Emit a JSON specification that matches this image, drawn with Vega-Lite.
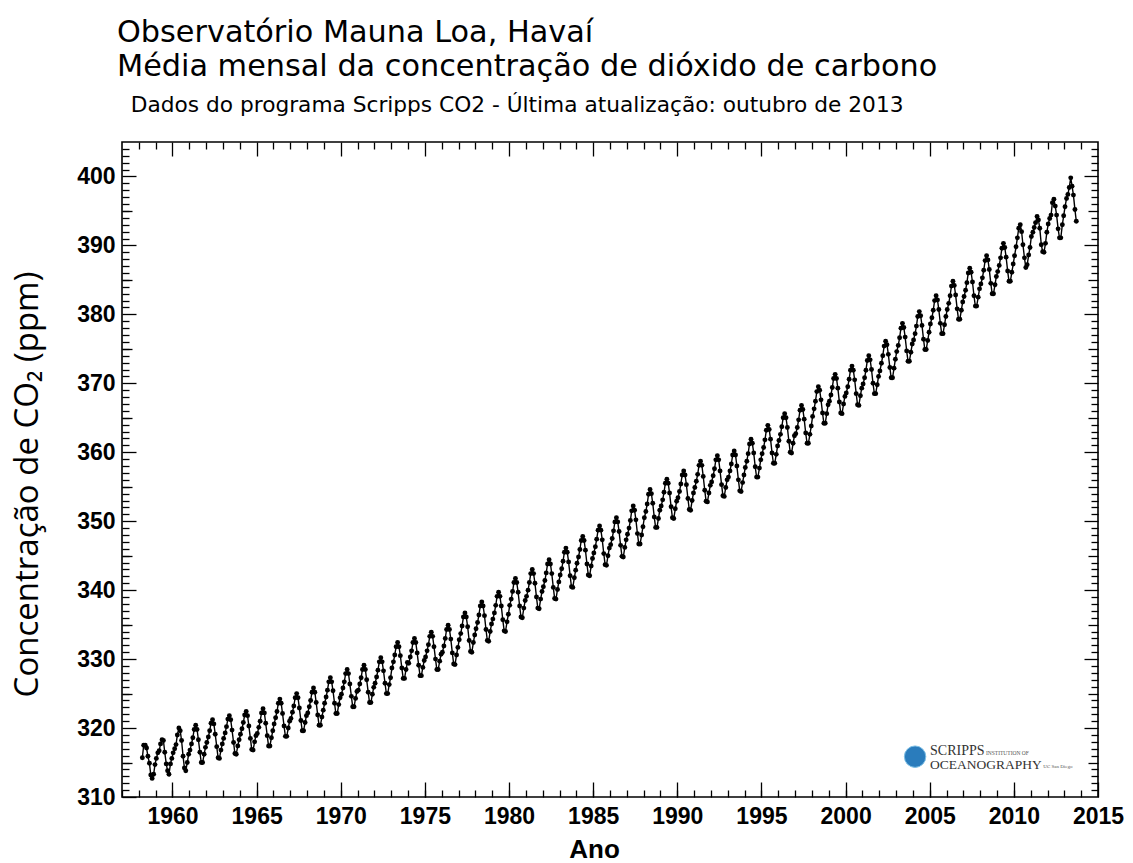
{
"$schema": "https://vega.github.io/schema/vega-lite/v6.json",
"width": 976, "height": 655,
"autosize": "none",
"padding": {"left": 122, "top": 142, "right": 35, "bottom": 66},
"background": "white",
"title": {"text": ["Observatório Mauna Loa, Havaí", "Média mensal da concentração de dióxido de carbono"], "subtitle": "\u200b\u00a0\u00a0Dados do programa Scripps CO2 - Última atualização: outubro de 2013", "anchor": "start", "frame": "group", "font": "DejaVu Sans", "fontSize": 30.3, "fontWeight": "normal", "color": "#000", "lineHeight": 34, "subtitleFont": "DejaVu Sans", "subtitleFontSize": 21.7, "subtitleColor": "#000", "subtitlePadding": 12, "offset": 25, "dx": -5},
"config": {"view": {"stroke": "#000", "strokeWidth": 1.6}, "axis": {"grid": false, "domain": false, "tickColor": "#000", "tickWidth": 1.3, "labelColor": "#000"}},
"resolve": {"axis": {"x": "independent", "y": "independent"}},
"data": {"values": [
{"t":1958.21,"v":315.7},{"t":1958.29,"v":317.5},{"t":1958.38,"v":317.5},{"t":1958.46,"v":317.1},{"t":1958.54,"v":315.9},{"t":1958.63,"v":314.9},{"t":1958.71,"v":313.2},{"t":1958.79,"v":312.7},{"t":1958.88,"v":313.3},{"t":1958.96,"v":314.7},
{"t":1959.04,"v":315.6},{"t":1959.13,"v":316.4},{"t":1959.21,"v":316.7},{"t":1959.29,"v":317.7},{"t":1959.38,"v":318.3},{"t":1959.46,"v":318.2},{"t":1959.54,"v":316.5},{"t":1959.63,"v":314.8},{"t":1959.71,"v":313.8},{"t":1959.79,"v":313.3},{"t":1959.88,"v":314.8},{"t":1959.96,"v":315.6},
{"t":1960.04,"v":316.4},{"t":1960.13,"v":317.0},{"t":1960.21,"v":317.6},{"t":1960.29,"v":319.0},{"t":1960.38,"v":320.0},{"t":1960.46,"v":319.6},{"t":1960.54,"v":318.2},{"t":1960.63,"v":315.9},{"t":1960.71,"v":314.2},{"t":1960.79,"v":313.8},{"t":1960.88,"v":315.0},{"t":1960.96,"v":316.2},
{"t":1961.04,"v":316.8},{"t":1961.13,"v":317.7},{"t":1961.21,"v":318.6},{"t":1961.29,"v":319.8},{"t":1961.38,"v":320.4},{"t":1961.46,"v":319.8},{"t":1961.54,"v":318.3},{"t":1961.63,"v":316.5},{"t":1961.71,"v":315.0},{"t":1961.79,"v":315.0},{"t":1961.88,"v":316.2},{"t":1961.96,"v":317.2},
{"t":1962.04,"v":317.9},{"t":1962.13,"v":318.7},{"t":1962.21,"v":319.6},{"t":1962.29,"v":320.7},{"t":1962.38,"v":321.2},{"t":1962.46,"v":320.6},{"t":1962.54,"v":319.1},{"t":1962.63,"v":317.3},{"t":1962.71,"v":315.7},{"t":1962.79,"v":315.6},{"t":1962.88,"v":316.8},{"t":1962.96,"v":317.7},
{"t":1963.04,"v":318.5},{"t":1963.13,"v":319.3},{"t":1963.21,"v":320.2},{"t":1963.29,"v":321.3},{"t":1963.38,"v":321.8},{"t":1963.46,"v":321.2},{"t":1963.54,"v":319.7},{"t":1963.63,"v":317.9},{"t":1963.71,"v":316.3},{"t":1963.79,"v":316.2},{"t":1963.88,"v":317.4},{"t":1963.96,"v":318.3},
{"t":1964.04,"v":319.1},{"t":1964.13,"v":319.9},{"t":1964.21,"v":320.8},{"t":1964.29,"v":321.9},{"t":1964.38,"v":322.4},{"t":1964.46,"v":321.8},{"t":1964.54,"v":320.3},{"t":1964.63,"v":318.5},{"t":1964.71,"v":316.9},{"t":1964.79,"v":316.8},{"t":1964.88,"v":318.0},{"t":1964.96,"v":318.9},
{"t":1965.04,"v":319.2},{"t":1965.13,"v":320.1},{"t":1965.21,"v":321.0},{"t":1965.29,"v":322.2},{"t":1965.38,"v":322.8},{"t":1965.46,"v":322.2},{"t":1965.54,"v":320.7},{"t":1965.63,"v":318.9},{"t":1965.71,"v":317.4},{"t":1965.79,"v":317.4},{"t":1965.88,"v":318.6},{"t":1965.96,"v":319.6},
{"t":1966.04,"v":320.6},{"t":1966.13,"v":321.5},{"t":1966.21,"v":322.4},{"t":1966.29,"v":323.6},{"t":1966.38,"v":324.2},{"t":1966.46,"v":323.6},{"t":1966.54,"v":322.1},{"t":1966.63,"v":320.3},{"t":1966.71,"v":318.8},{"t":1966.79,"v":318.8},{"t":1966.88,"v":320.0},{"t":1966.96,"v":321.0},
{"t":1967.04,"v":321.4},{"t":1967.13,"v":322.3},{"t":1967.21,"v":323.2},{"t":1967.29,"v":324.4},{"t":1967.38,"v":325.0},{"t":1967.46,"v":324.4},{"t":1967.54,"v":322.9},{"t":1967.63,"v":321.1},{"t":1967.71,"v":319.6},{"t":1967.79,"v":319.6},{"t":1967.88,"v":320.8},{"t":1967.96,"v":321.8},
{"t":1968.04,"v":322.2},{"t":1968.13,"v":323.1},{"t":1968.21,"v":324.0},{"t":1968.29,"v":325.2},{"t":1968.38,"v":325.8},{"t":1968.46,"v":325.2},{"t":1968.54,"v":323.7},{"t":1968.63,"v":321.9},{"t":1968.71,"v":320.4},{"t":1968.79,"v":320.4},{"t":1968.88,"v":321.6},{"t":1968.96,"v":322.6},
{"t":1969.04,"v":323.6},{"t":1969.13,"v":324.5},{"t":1969.21,"v":325.5},{"t":1969.29,"v":326.7},{"t":1969.38,"v":327.3},{"t":1969.46,"v":326.7},{"t":1969.54,"v":325.4},{"t":1969.63,"v":323.6},{"t":1969.71,"v":322.1},{"t":1969.79,"v":322.1},{"t":1969.88,"v":323.4},{"t":1969.96,"v":324.4},
{"t":1970.04,"v":324.9},{"t":1970.13,"v":325.8},{"t":1970.21,"v":326.7},{"t":1970.29,"v":327.9},{"t":1970.38,"v":328.5},{"t":1970.46,"v":327.9},{"t":1970.54,"v":326.4},{"t":1970.63,"v":324.6},{"t":1970.71,"v":323.1},{"t":1970.79,"v":323.1},{"t":1970.88,"v":324.3},{"t":1970.96,"v":325.3},
{"t":1971.04,"v":325.5},{"t":1971.13,"v":326.4},{"t":1971.21,"v":327.3},{"t":1971.29,"v":328.5},{"t":1971.38,"v":329.1},{"t":1971.46,"v":328.5},{"t":1971.54,"v":327.0},{"t":1971.63,"v":325.2},{"t":1971.71,"v":323.7},{"t":1971.79,"v":323.7},{"t":1971.88,"v":324.9},{"t":1971.96,"v":325.9},
{"t":1972.04,"v":326.5},{"t":1972.13,"v":327.4},{"t":1972.21,"v":328.4},{"t":1972.29,"v":329.6},{"t":1972.38,"v":330.2},{"t":1972.46,"v":329.6},{"t":1972.54,"v":328.3},{"t":1972.63,"v":326.5},{"t":1972.71,"v":325.0},{"t":1972.79,"v":325.0},{"t":1972.88,"v":326.3},{"t":1972.96,"v":327.3},
{"t":1973.04,"v":328.7},{"t":1973.13,"v":329.6},{"t":1973.21,"v":330.6},{"t":1973.29,"v":331.8},{"t":1973.38,"v":332.4},{"t":1973.46,"v":331.8},{"t":1973.54,"v":330.5},{"t":1973.63,"v":328.7},{"t":1973.71,"v":327.2},{"t":1973.79,"v":327.2},{"t":1973.88,"v":328.5},{"t":1973.96,"v":329.5},
{"t":1974.04,"v":329.4},{"t":1974.13,"v":330.3},{"t":1974.21,"v":331.2},{"t":1974.29,"v":332.4},{"t":1974.38,"v":333.0},{"t":1974.46,"v":332.4},{"t":1974.54,"v":330.9},{"t":1974.63,"v":329.1},{"t":1974.71,"v":327.6},{"t":1974.79,"v":327.6},{"t":1974.88,"v":328.8},{"t":1974.96,"v":329.8},
{"t":1975.04,"v":330.3},{"t":1975.13,"v":331.2},{"t":1975.21,"v":332.1},{"t":1975.29,"v":333.3},{"t":1975.38,"v":333.9},{"t":1975.46,"v":333.3},{"t":1975.54,"v":331.8},{"t":1975.63,"v":330.0},{"t":1975.71,"v":328.5},{"t":1975.79,"v":328.5},{"t":1975.88,"v":329.7},{"t":1975.96,"v":330.7},
{"t":1976.04,"v":331.0},{"t":1976.13,"v":331.9},{"t":1976.21,"v":333.0},{"t":1976.29,"v":334.3},{"t":1976.38,"v":334.9},{"t":1976.46,"v":334.3},{"t":1976.54,"v":332.9},{"t":1976.63,"v":330.9},{"t":1976.71,"v":329.3},{"t":1976.79,"v":329.2},{"t":1976.88,"v":330.6},{"t":1976.96,"v":331.7},
{"t":1977.04,"v":332.8},{"t":1977.13,"v":333.7},{"t":1977.21,"v":334.8},{"t":1977.29,"v":336.1},{"t":1977.38,"v":336.7},{"t":1977.46,"v":336.1},{"t":1977.54,"v":334.7},{"t":1977.63,"v":332.7},{"t":1977.71,"v":331.1},{"t":1977.79,"v":331.0},{"t":1977.88,"v":332.4},{"t":1977.96,"v":333.5},
{"t":1978.04,"v":334.4},{"t":1978.13,"v":335.3},{"t":1978.21,"v":336.4},{"t":1978.29,"v":337.7},{"t":1978.38,"v":338.3},{"t":1978.46,"v":337.7},{"t":1978.54,"v":336.3},{"t":1978.63,"v":334.3},{"t":1978.71,"v":332.7},{"t":1978.79,"v":332.6},{"t":1978.88,"v":334.0},{"t":1978.96,"v":335.1},
{"t":1979.04,"v":335.8},{"t":1979.13,"v":336.7},{"t":1979.21,"v":337.8},{"t":1979.29,"v":339.1},{"t":1979.38,"v":339.7},{"t":1979.46,"v":339.1},{"t":1979.54,"v":337.7},{"t":1979.63,"v":335.7},{"t":1979.71,"v":334.1},{"t":1979.79,"v":334.0},{"t":1979.88,"v":335.4},{"t":1979.96,"v":336.5},
{"t":1980.04,"v":337.8},{"t":1980.13,"v":338.7},{"t":1980.21,"v":339.8},{"t":1980.29,"v":341.1},{"t":1980.38,"v":341.7},{"t":1980.46,"v":341.1},{"t":1980.54,"v":339.7},{"t":1980.63,"v":337.7},{"t":1980.71,"v":336.1},{"t":1980.79,"v":336.0},{"t":1980.88,"v":337.4},{"t":1980.96,"v":338.5},
{"t":1981.04,"v":339.1},{"t":1981.13,"v":340.0},{"t":1981.21,"v":341.1},{"t":1981.29,"v":342.4},{"t":1981.38,"v":343.0},{"t":1981.46,"v":342.4},{"t":1981.54,"v":341.0},{"t":1981.63,"v":339.0},{"t":1981.71,"v":337.4},{"t":1981.79,"v":337.3},{"t":1981.88,"v":338.7},{"t":1981.96,"v":339.8},
{"t":1982.04,"v":340.5},{"t":1982.13,"v":341.4},{"t":1982.21,"v":342.5},{"t":1982.29,"v":343.8},{"t":1982.38,"v":344.4},{"t":1982.46,"v":343.8},{"t":1982.54,"v":342.4},{"t":1982.63,"v":340.4},{"t":1982.71,"v":338.8},{"t":1982.79,"v":338.7},{"t":1982.88,"v":340.1},{"t":1982.96,"v":341.2},
{"t":1983.04,"v":342.2},{"t":1983.13,"v":343.1},{"t":1983.21,"v":344.2},{"t":1983.29,"v":345.5},{"t":1983.38,"v":346.1},{"t":1983.46,"v":345.5},{"t":1983.54,"v":344.1},{"t":1983.63,"v":342.1},{"t":1983.71,"v":340.5},{"t":1983.79,"v":340.4},{"t":1983.88,"v":341.8},{"t":1983.96,"v":342.9},
{"t":1984.04,"v":343.9},{"t":1984.13,"v":344.8},{"t":1984.21,"v":345.9},{"t":1984.29,"v":347.2},{"t":1984.38,"v":347.8},{"t":1984.46,"v":347.2},{"t":1984.54,"v":345.8},{"t":1984.63,"v":343.8},{"t":1984.71,"v":342.2},{"t":1984.79,"v":342.1},{"t":1984.88,"v":343.5},{"t":1984.96,"v":344.6},
{"t":1985.04,"v":345.4},{"t":1985.13,"v":346.3},{"t":1985.21,"v":347.4},{"t":1985.29,"v":348.7},{"t":1985.38,"v":349.3},{"t":1985.46,"v":348.7},{"t":1985.54,"v":347.3},{"t":1985.63,"v":345.3},{"t":1985.71,"v":343.7},{"t":1985.79,"v":343.6},{"t":1985.88,"v":345.0},{"t":1985.96,"v":346.1},
{"t":1986.04,"v":346.6},{"t":1986.13,"v":347.5},{"t":1986.21,"v":348.6},{"t":1986.29,"v":349.9},{"t":1986.38,"v":350.5},{"t":1986.46,"v":349.9},{"t":1986.54,"v":348.5},{"t":1986.63,"v":346.5},{"t":1986.71,"v":344.9},{"t":1986.79,"v":344.8},{"t":1986.88,"v":346.2},{"t":1986.96,"v":347.3},
{"t":1987.04,"v":348.1},{"t":1987.13,"v":349.0},{"t":1987.21,"v":350.1},{"t":1987.29,"v":351.5},{"t":1987.38,"v":352.2},{"t":1987.46,"v":351.6},{"t":1987.54,"v":350.2},{"t":1987.63,"v":348.2},{"t":1987.71,"v":346.7},{"t":1987.79,"v":346.7},{"t":1987.88,"v":348.0},{"t":1987.96,"v":349.2},
{"t":1988.04,"v":350.5},{"t":1988.13,"v":351.4},{"t":1988.21,"v":352.5},{"t":1988.29,"v":353.9},{"t":1988.38,"v":354.6},{"t":1988.46,"v":354.0},{"t":1988.54,"v":352.6},{"t":1988.63,"v":350.6},{"t":1988.71,"v":349.1},{"t":1988.79,"v":349.1},{"t":1988.88,"v":350.4},{"t":1988.96,"v":351.6},
{"t":1989.04,"v":352.2},{"t":1989.13,"v":353.1},{"t":1989.21,"v":354.2},{"t":1989.29,"v":355.5},{"t":1989.38,"v":356.1},{"t":1989.46,"v":355.5},{"t":1989.54,"v":354.1},{"t":1989.63,"v":352.1},{"t":1989.71,"v":350.5},{"t":1989.79,"v":350.4},{"t":1989.88,"v":351.8},{"t":1989.96,"v":352.9},
{"t":1990.04,"v":353.4},{"t":1990.13,"v":354.3},{"t":1990.21,"v":355.4},{"t":1990.29,"v":356.7},{"t":1990.38,"v":357.3},{"t":1990.46,"v":356.7},{"t":1990.54,"v":355.3},{"t":1990.63,"v":353.3},{"t":1990.71,"v":351.7},{"t":1990.79,"v":351.6},{"t":1990.88,"v":353.0},{"t":1990.96,"v":354.1},
{"t":1991.04,"v":354.9},{"t":1991.13,"v":355.8},{"t":1991.21,"v":356.8},{"t":1991.29,"v":358.1},{"t":1991.38,"v":358.7},{"t":1991.46,"v":358.1},{"t":1991.54,"v":356.5},{"t":1991.63,"v":354.5},{"t":1991.71,"v":352.9},{"t":1991.79,"v":352.8},{"t":1991.88,"v":354.1},{"t":1991.96,"v":355.2},
{"t":1992.04,"v":355.7},{"t":1992.13,"v":356.6},{"t":1992.21,"v":357.6},{"t":1992.29,"v":358.9},{"t":1992.38,"v":359.5},{"t":1992.46,"v":358.9},{"t":1992.54,"v":357.3},{"t":1992.63,"v":355.3},{"t":1992.71,"v":353.7},{"t":1992.79,"v":353.6},{"t":1992.88,"v":354.9},{"t":1992.96,"v":356.0},
{"t":1993.04,"v":356.4},{"t":1993.13,"v":357.3},{"t":1993.21,"v":358.3},{"t":1993.29,"v":359.6},{"t":1993.38,"v":360.2},{"t":1993.46,"v":359.6},{"t":1993.54,"v":358.0},{"t":1993.63,"v":356.0},{"t":1993.71,"v":354.4},{"t":1993.79,"v":354.3},{"t":1993.88,"v":355.6},{"t":1993.96,"v":356.7},
{"t":1994.04,"v":357.8},{"t":1994.13,"v":358.7},{"t":1994.21,"v":359.8},{"t":1994.29,"v":361.2},{"t":1994.38,"v":361.9},{"t":1994.46,"v":361.3},{"t":1994.54,"v":359.9},{"t":1994.63,"v":357.9},{"t":1994.71,"v":356.4},{"t":1994.79,"v":356.4},{"t":1994.88,"v":357.7},{"t":1994.96,"v":358.9},
{"t":1995.04,"v":359.8},{"t":1995.13,"v":360.7},{"t":1995.21,"v":361.8},{"t":1995.29,"v":363.2},{"t":1995.38,"v":363.9},{"t":1995.46,"v":363.3},{"t":1995.54,"v":361.9},{"t":1995.63,"v":359.9},{"t":1995.71,"v":358.4},{"t":1995.79,"v":358.4},{"t":1995.88,"v":359.7},{"t":1995.96,"v":360.9},
{"t":1996.04,"v":361.7},{"t":1996.13,"v":362.6},{"t":1996.21,"v":363.7},{"t":1996.29,"v":365.0},{"t":1996.38,"v":365.6},{"t":1996.46,"v":365.0},{"t":1996.54,"v":363.6},{"t":1996.63,"v":361.6},{"t":1996.71,"v":360.0},{"t":1996.79,"v":359.9},{"t":1996.88,"v":361.3},{"t":1996.96,"v":362.4},
{"t":1997.04,"v":362.7},{"t":1997.13,"v":363.6},{"t":1997.21,"v":364.7},{"t":1997.29,"v":366.1},{"t":1997.38,"v":366.8},{"t":1997.46,"v":366.2},{"t":1997.54,"v":364.8},{"t":1997.63,"v":362.8},{"t":1997.71,"v":361.3},{"t":1997.79,"v":361.3},{"t":1997.88,"v":362.6},{"t":1997.96,"v":363.8},
{"t":1998.04,"v":365.2},{"t":1998.13,"v":366.3},{"t":1998.21,"v":367.4},{"t":1998.29,"v":368.8},{"t":1998.38,"v":369.5},{"t":1998.46,"v":369.0},{"t":1998.54,"v":367.6},{"t":1998.63,"v":365.7},{"t":1998.71,"v":364.2},{"t":1998.79,"v":364.2},{"t":1998.88,"v":365.6},{"t":1998.96,"v":366.9},
{"t":1999.04,"v":367.4},{"t":1999.13,"v":368.3},{"t":1999.21,"v":369.4},{"t":1999.29,"v":370.7},{"t":1999.38,"v":371.3},{"t":1999.46,"v":370.7},{"t":1999.54,"v":369.3},{"t":1999.63,"v":367.3},{"t":1999.71,"v":365.7},{"t":1999.79,"v":365.6},{"t":1999.88,"v":367.0},{"t":1999.96,"v":368.1},
{"t":2000.04,"v":368.6},{"t":2000.13,"v":369.5},{"t":2000.21,"v":370.6},{"t":2000.29,"v":371.9},{"t":2000.38,"v":372.5},{"t":2000.46,"v":371.9},{"t":2000.54,"v":370.5},{"t":2000.63,"v":368.5},{"t":2000.71,"v":366.9},{"t":2000.79,"v":366.8},{"t":2000.88,"v":368.2},{"t":2000.96,"v":369.3},
{"t":2001.04,"v":369.9},{"t":2001.13,"v":370.8},{"t":2001.21,"v":371.9},{"t":2001.29,"v":373.3},{"t":2001.38,"v":374.0},{"t":2001.46,"v":373.4},{"t":2001.54,"v":372.0},{"t":2001.63,"v":370.0},{"t":2001.71,"v":368.5},{"t":2001.79,"v":368.5},{"t":2001.88,"v":369.8},{"t":2001.96,"v":371.0},
{"t":2002.04,"v":371.8},{"t":2002.13,"v":372.9},{"t":2002.21,"v":374.0},{"t":2002.29,"v":375.4},{"t":2002.38,"v":376.1},{"t":2002.46,"v":375.6},{"t":2002.54,"v":374.2},{"t":2002.63,"v":372.3},{"t":2002.71,"v":370.8},{"t":2002.79,"v":370.8},{"t":2002.88,"v":372.2},{"t":2002.96,"v":373.5},
{"t":2003.04,"v":374.6},{"t":2003.13,"v":375.5},{"t":2003.21,"v":376.6},{"t":2003.29,"v":378.0},{"t":2003.38,"v":378.7},{"t":2003.46,"v":378.1},{"t":2003.54,"v":376.7},{"t":2003.63,"v":374.7},{"t":2003.71,"v":373.2},{"t":2003.79,"v":373.2},{"t":2003.88,"v":374.5},{"t":2003.96,"v":375.7},
{"t":2004.04,"v":376.3},{"t":2004.13,"v":377.2},{"t":2004.21,"v":378.3},{"t":2004.29,"v":379.7},{"t":2004.38,"v":380.4},{"t":2004.46,"v":379.8},{"t":2004.54,"v":378.4},{"t":2004.63,"v":376.4},{"t":2004.71,"v":374.9},{"t":2004.79,"v":374.9},{"t":2004.88,"v":376.2},{"t":2004.96,"v":377.4},
{"t":2005.04,"v":378.6},{"t":2005.13,"v":379.5},{"t":2005.21,"v":380.6},{"t":2005.29,"v":382.0},{"t":2005.38,"v":382.7},{"t":2005.46,"v":382.1},{"t":2005.54,"v":380.7},{"t":2005.63,"v":378.7},{"t":2005.71,"v":377.2},{"t":2005.79,"v":377.2},{"t":2005.88,"v":378.5},{"t":2005.96,"v":379.7},
{"t":2006.04,"v":380.7},{"t":2006.13,"v":381.6},{"t":2006.21,"v":382.7},{"t":2006.29,"v":384.1},{"t":2006.38,"v":384.8},{"t":2006.46,"v":384.2},{"t":2006.54,"v":382.8},{"t":2006.63,"v":380.8},{"t":2006.71,"v":379.3},{"t":2006.79,"v":379.3},{"t":2006.88,"v":380.6},{"t":2006.96,"v":381.8},
{"t":2007.04,"v":382.6},{"t":2007.13,"v":383.5},{"t":2007.21,"v":384.6},{"t":2007.29,"v":386.0},{"t":2007.38,"v":386.7},{"t":2007.46,"v":386.1},{"t":2007.54,"v":384.7},{"t":2007.63,"v":382.7},{"t":2007.71,"v":381.2},{"t":2007.79,"v":381.2},{"t":2007.88,"v":382.5},{"t":2007.96,"v":383.7},
{"t":2008.04,"v":384.4},{"t":2008.13,"v":385.3},{"t":2008.21,"v":386.4},{"t":2008.29,"v":387.8},{"t":2008.38,"v":388.5},{"t":2008.46,"v":387.9},{"t":2008.54,"v":386.5},{"t":2008.63,"v":384.5},{"t":2008.71,"v":383.0},{"t":2008.79,"v":383.0},{"t":2008.88,"v":384.3},{"t":2008.96,"v":385.5},
{"t":2009.04,"v":386.2},{"t":2009.13,"v":387.1},{"t":2009.21,"v":388.2},{"t":2009.29,"v":389.6},{"t":2009.38,"v":390.3},{"t":2009.46,"v":389.7},{"t":2009.54,"v":388.3},{"t":2009.63,"v":386.3},{"t":2009.71,"v":384.8},{"t":2009.79,"v":384.8},{"t":2009.88,"v":386.1},{"t":2009.96,"v":387.3},
{"t":2010.04,"v":388.5},{"t":2010.13,"v":389.8},{"t":2010.21,"v":391.1},{"t":2010.29,"v":392.5},{"t":2010.38,"v":393.0},{"t":2010.46,"v":392.0},{"t":2010.54,"v":390.1},{"t":2010.63,"v":388.2},{"t":2010.71,"v":386.8},{"t":2010.79,"v":387.2},{"t":2010.88,"v":388.6},{"t":2010.96,"v":389.7},
{"t":2011.04,"v":391.3},{"t":2011.13,"v":391.9},{"t":2011.21,"v":392.6},{"t":2011.29,"v":393.3},{"t":2011.38,"v":394.2},{"t":2011.46,"v":393.7},{"t":2011.54,"v":392.5},{"t":2011.63,"v":390.1},{"t":2011.71,"v":389.1},{"t":2011.79,"v":389.0},{"t":2011.88,"v":390.3},{"t":2011.96,"v":391.9},
{"t":2012.04,"v":393.1},{"t":2012.13,"v":393.9},{"t":2012.21,"v":394.4},{"t":2012.29,"v":396.2},{"t":2012.38,"v":396.7},{"t":2012.46,"v":395.7},{"t":2012.54,"v":394.4},{"t":2012.63,"v":392.4},{"t":2012.71,"v":391.1},{"t":2012.79,"v":391.1},{"t":2012.88,"v":393.0},{"t":2012.96,"v":394.3},
{"t":2013.04,"v":395.6},{"t":2013.13,"v":396.8},{"t":2013.21,"v":397.4},{"t":2013.29,"v":398.4},{"t":2013.38,"v":399.8},{"t":2013.46,"v":398.6},{"t":2013.54,"v":397.3},{"t":2013.63,"v":395.2},{"t":2013.71,"v":393.5}
]},
"layer": [
{"mark": {"type": "line", "color": "#000", "strokeWidth": 1.4},
 "encoding": {
  "x": {"field": "t", "type": "quantitative", "scale": {"domain": [1957, 2015], "nice": false, "zero": false},
        "axis": {"orient": "bottom", "values": [1960,1965,1970,1975,1980,1985,1990,1995,2000,2005,2010,2015], "format": "d", "tickSize": -15, "labelPadding": 23, "labelFont": "Liberation Sans", "labelFontWeight": "bold", "labelFontSize": 23, "labelFlush": false, "labelOverlap": false,
                 "title": "Ano", "titleFont": "Liberation Sans", "titleFontWeight": "bold", "titleFontSize": 26, "titleColor": "#000", "titleX": 472, "titleY": 60, "titleAlign": "center", "titleBaseline": "alphabetic"}},
  "y": {"field": "v", "type": "quantitative", "scale": {"domain": [310, 405], "nice": false, "zero": false},
        "axis": {"orient": "left", "values": [310,320,330,340,350,360,370,380,390,400], "tickSize": -14, "labelPadding": 21, "labelFont": "Liberation Sans", "labelFontWeight": "bold", "labelFontSize": 23, "labelFlush": false, "labelOverlap": false,
                 "title": "Concentração de CO₂ (ppm)", "titleFont": "Open Sans", "titleFontWeight": "normal", "titleFontSize": 33, "titleColor": "#000", "titleAngle": 270, "titleX": -85, "titleY": 342, "titleAlign": "center", "titleBaseline": "alphabetic"}}
 }},
{"mark": {"type": "point", "filled": true, "color": "#000", "size": 24, "opacity": 1},
 "encoding": {
  "x": {"field": "t", "type": "quantitative", "axis": {"orient": "bottom", "values": [1957,1958,1959,1960,1961,1962,1963,1964,1965,1966,1967,1968,1969,1970,1971,1972,1973,1974,1975,1976,1977,1978,1979,1980,1981,1982,1983,1984,1985,1986,1987,1988,1989,1990,1991,1992,1993,1994,1995,1996,1997,1998,1999,2000,2001,2002,2003,2004,2005,2006,2007,2008,2009,2010,2011,2012,2013,2014], "tickSize": -7, "labels": false, "title": null}},
  "y": {"field": "v", "type": "quantitative", "axis": {"orient": "left", "values": [311,312,313,314,315,316,317,318,319,321,322,323,324,325,326,327,328,329,331,332,333,334,335,336,337,338,339,341,342,343,344,345,346,347,348,349,351,352,353,354,355,356,357,358,359,361,362,363,364,365,366,367,368,369,371,372,373,374,375,376,377,378,379,381,382,383,384,385,386,387,388,389,391,392,393,394,395,396,397,398,399,401,402,403,404], "tickSize": -7, "labels": false, "title": null}}
 }},
{"mark": {"type": "point", "opacity": 0},
 "encoding": {
  "x": {"field": "t", "type": "quantitative", "axis": {"orient": "top", "values": [1960,1965,1970,1975,1980,1985,1990,1995,2000,2005,2010], "tickSize": -14, "labels": false, "title": null}},
  "y": {"field": "v", "type": "quantitative", "axis": {"orient": "right", "values": [320,330,340,350,360,370,380,390,400], "tickSize": -14, "labels": false, "title": null}}
 }},
{"mark": {"type": "point", "opacity": 0},
 "encoding": {
  "x": {"field": "t", "type": "quantitative", "axis": {"orient": "top", "values": [1958,1959,1961,1962,1963,1964,1966,1967,1968,1969,1971,1972,1973,1974,1976,1977,1978,1979,1981,1982,1983,1984,1986,1987,1988,1989,1991,1992,1993,1994,1996,1997,1998,1999,2001,2002,2003,2004,2006,2007,2008,2009,2011,2012,2013,2014], "tickSize": -7, "labels": false, "title": null}},
  "y": {"field": "v", "type": "quantitative", "axis": {"orient": "right", "values": [311,312,313,314,316,317,318,319,321,322,323,324,326,327,328,329,331,332,333,334,336,337,338,339,341,342,343,344,346,347,348,349,351,352,353,354,356,357,358,359,361,362,363,364,366,367,368,369,371,372,373,374,376,377,378,379,381,382,383,384,386,387,388,389,391,392,393,394,396,397,398,399,401,402,403,404], "tickSize": -7, "labels": false, "title": null}}
 }},
{"mark": {"type": "point", "opacity": 0},
 "encoding": {
  "x": {"field": "t", "type": "quantitative", "axis": null},
  "y": {"field": "v", "type": "quantitative", "axis": {"orient": "left", "values": [315,325,335,345,355,365,375,385,395], "tickSize": -10, "labels": false, "title": null}}
 }},
{"mark": {"type": "point", "opacity": 0},
 "encoding": {
  "x": {"field": "t", "type": "quantitative", "axis": null},
  "y": {"field": "v", "type": "quantitative", "axis": {"orient": "right", "values": [315,325,335,345,355,365,375,385,395], "tickSize": -10, "labels": false, "title": null}}
 }},
{"data": {"values": [{}]},
 "mark": {"type": "point", "filled": true, "color": "#2a7cbc", "size": 460, "opacity": 1, "stroke": "#7fc0e6", "strokeWidth": 1},
 "encoding": {"x": {"datum": 2004.13, "type": "quantitative", "axis": null}, "y": {"datum": 315.85, "type": "quantitative", "axis": null}}},
{"data": {"values": [{}]},
 "mark": {"type": "text", "text": "SCRIPPS", "font": "Liberation Serif", "fontSize": 14, "align": "left", "baseline": "alphabetic", "color": "#333"},
 "encoding": {"x": {"datum": 2005.02, "type": "quantitative", "axis": null}, "y": {"datum": 316.1, "type": "quantitative", "axis": null}}},
{"data": {"values": [{}]},
 "mark": {"type": "text", "text": "INSTITUTION OF", "font": "Liberation Serif", "fontSize": 5.5, "align": "left", "baseline": "alphabetic", "color": "#555"},
 "encoding": {"x": {"datum": 2008.34, "type": "quantitative", "axis": null}, "y": {"datum": 316.15, "type": "quantitative", "axis": null}}},
{"data": {"values": [{}]},
 "mark": {"type": "text", "text": "OCEANOGRAPHY", "font": "Liberation Serif", "fontSize": 13.5, "align": "left", "baseline": "alphabetic", "color": "#333"},
 "encoding": {"x": {"datum": 2005.02, "type": "quantitative", "axis": null}, "y": {"datum": 314.05, "type": "quantitative", "axis": null}}},
{"data": {"values": [{}]},
 "mark": {"type": "text", "text": "UC San Diego", "font": "Liberation Serif", "fontSize": 5, "align": "left", "baseline": "alphabetic", "color": "#555"},
 "encoding": {"x": {"datum": 2011.75, "type": "quantitative", "axis": null}, "y": {"datum": 314.2, "type": "quantitative", "axis": null}}}
]
}
